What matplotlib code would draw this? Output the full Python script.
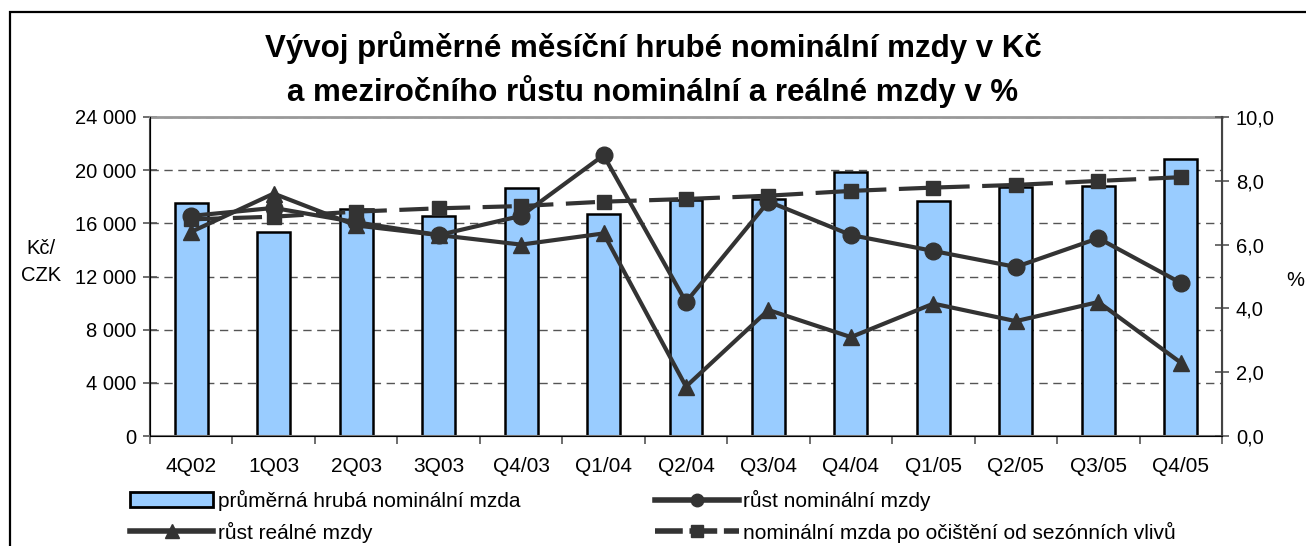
import numpy as np
import matplotlib.pyplot as plt
from matplotlib.lines import Line2D
from matplotlib.patches import Patch, Rectangle
from matplotlib.ticker import FixedLocator, FuncFormatter

plt.rcParams["font.family"] = ["Liberation Sans", "DejaVu Sans"]

quarters = ["4Q02", "1Q03", "2Q03", "3Q03", "Q4/03", "Q1/04", "Q2/04",
            "Q3/04", "Q4/04", "Q1/05", "Q2/05", "Q3/05", "Q4/05"]
avg_wage = [17550, 15370, 17070, 16570, 18670, 16700, 17750,
            17800, 19870, 17660, 18710, 18790, 20830]
nominal_growth = [6.9, 7.15, 6.7, 6.3, 6.9, 8.8, 4.2,
                  7.35, 6.3, 5.8, 5.3, 6.2, 4.8]
real_growth = [6.4, 7.6, 6.6, 6.3, 6.0, 6.35, 1.55,
               3.95, 3.1, 4.15, 3.6, 4.2, 2.3]
wage_sa = [16300, 16500, 16880, 17130, 17300, 17630, 17830,
           18080, 18440, 18690, 18890, 19190, 19470]

dark = "#333333"
x = np.arange(len(quarters))

fig = plt.figure(figsize=(13.06, 5.46), dpi=100)
ax = fig.add_axes([150 / 1306, 1 - 436 / 546, 1072 / 1306, 319 / 546])
ax2 = ax.twinx()

ax.bar(x, avg_wage, width=0.4, color="#99CCFF", edgecolor="black", linewidth=1.8, zorder=2)
ax.plot(x, wage_sa, color=dark, lw=3, dashes=(7, 3), marker="s", ms=10, zorder=4)
ax2.plot(x, nominal_growth, color=dark, lw=3, marker="o", ms=12, zorder=4)
ax2.plot(x, real_growth, color=dark, lw=3, marker="^", ms=12, zorder=4)

ax.set_xlim(-0.5, len(quarters) - 0.5)
ax.set_ylim(0, 24000)
ax2.set_ylim(0, 10)
ax.set_yticks(np.arange(0, 24001, 4000))
ax2.set_yticks(np.arange(0, 10.1, 2))
ax.yaxis.set_major_formatter(FuncFormatter(lambda v, p: f"{int(v):,}".replace(",", " ")))
ax2.yaxis.set_major_formatter(FuncFormatter(lambda v, p: f"{v:.1f}".replace(".", ",")))

ax.set_xticks(x)
ax.set_xticklabels(quarters)
ax.xaxis.set_minor_locator(FixedLocator(np.arange(-0.5, len(quarters), 1)))
ax.tick_params(axis="x", which="major", length=0, pad=15, labelsize=15)
ax.tick_params(axis="x", which="minor", length=6, width=1.2, color="#555555")
ax.tick_params(axis="y", direction="inout", length=10, width=1.2, color="#555555", pad=5, labelsize=14.5)
ax2.tick_params(axis="y", direction="inout", length=10, width=1.2, color="#555555", pad=5, labelsize=14.5)

ax.yaxis.grid(True, linestyle=(0, (6, 4)), color="#555555", lw=1)
ax.set_axisbelow(True)

ax.spines["top"].set_color("#999999")
ax.spines["top"].set_linewidth(2)
ax2.spines["top"].set_visible(False)
ax.spines["bottom"].set_color("#777777")
ax.spines["bottom"].set_linewidth(1.5)
ax.spines["left"].set_color("#444444")
ax.spines["left"].set_linewidth(1.5)
ax2.spines["right"].set_color("#444444")
ax2.spines["right"].set_linewidth(1.5)

fig.text(41 / 1306, 1 - 262 / 546, "Kč/\nCZK", ha="center", va="center", fontsize=14.5, linespacing=1.5)
fig.text(1295 / 1306, 1 - 280 / 546, "%", ha="center", va="center", fontsize=14.5)

fig.text(653 / 1306, 1 - 48 / 546, "Vývoj průměrné měsíční hrubé nominální mzdy v Kč",
         ha="center", va="center", fontsize=22.5, fontweight="bold")
fig.text(653 / 1306, 1 - 92 / 546, "a meziročního růstu nominální a reálné mzdy v %",
         ha="center", va="center", fontsize=22.5, fontweight="bold")

handles = [
    Patch(facecolor="#99CCFF", edgecolor="black", linewidth=2),
    Line2D([], [], color=dark, lw=4, marker="^", ms=10),
    Line2D([], [], color=dark, lw=4, marker="o", ms=9),
    Line2D([], [], color=dark, lw=4, marker="s", ms=9, dashes=(5, 1.2)),
]
labels = ["průměrná hrubá nominální mzda", "růst reálné mzdy",
          "růst nominální mzdy", "nominální mzda po očištění od sezónních vlivů"]
fig.legend(handles, labels, loc="upper left", bbox_to_anchor=(130 / 1306, 1 - 490 / 546),
           ncol=2, frameon=False, fontsize=15, handlelength=4.0, handleheight=0.7,
           handletextpad=0.2, columnspacing=6.5, labelspacing=0.5, borderpad=0, borderaxespad=0)

fig.add_artist(Rectangle((10 / 1306, -0.2), 1.2, 1.2 - 12 / 546,
                         transform=fig.transFigure, fill=False, edgecolor="black", lw=1.6))

fig.savefig("out.png", dpi=100)
